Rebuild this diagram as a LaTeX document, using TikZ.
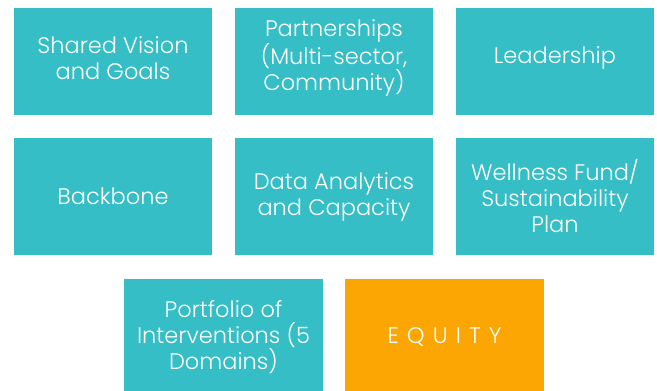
\documentclass[tikz,border=0pt]{standalone}
\usepackage{fontspec}
\setmainfont{Poppins Light}
\definecolor{tealtile}{RGB}{54,190,198}
\definecolor{orangetile}{RGB}{251,166,2}

\begin{document}
\begin{tikzpicture}[x=1pt, y=-1pt]
            \tikzset{tile/.style = {shape=rectangle, fill=tealtile, minimum width=198.5pt, minimum height=117pt, inner sep=0pt}}
            \tikzset{caption/.style = {text=white, align=center, font=\fontsize{22.5}{26}\selectfont}}

            \useasboundingbox (0, 0) rectangle (657, 391);

            \node[tile, minimum height=107pt, label={[caption, yshift=3.5pt]center:{Shared Vision\\and Goals}}] (vision) at (113, 61.5) {};
            \node[tile, minimum height=107pt, label={[caption, yshift=3.5pt]center:{Partnerships\\(Multi-sector,\\Community)}}] (partners) at (334, 61.5) {};
            \node[tile, minimum height=107pt, label={[caption, yshift=3.5pt]center:{Leadership}}] (leaders) at (555, 61.5) {};

            \node[tile, label={[caption]center:{Backbone}}] (backbone) at (113, 196.5) {};
            \node[tile, label={[caption]center:{Data Analytics\\and Capacity}}] (data) at (334, 196.5) {};
            \node[tile, label={[caption]center:{Wellness Fund/\\Sustainability\\Plan}}] (fund) at (555, 196.5) {};

            \node[tile, label={[caption]center:{Portfolio of\\Interventions (5\\Domains)}}] (portfolio) at (223.5, 337.5) {};
            \node[tile, fill=orangetile, label={[caption, font=\fontsize{22.5}{26}\selectfont\addfontfeature{LetterSpace=36}]center:{EQUITY}}] (equity) at (444.5, 337.5) {};
        \end{tikzpicture}
\end{document}
